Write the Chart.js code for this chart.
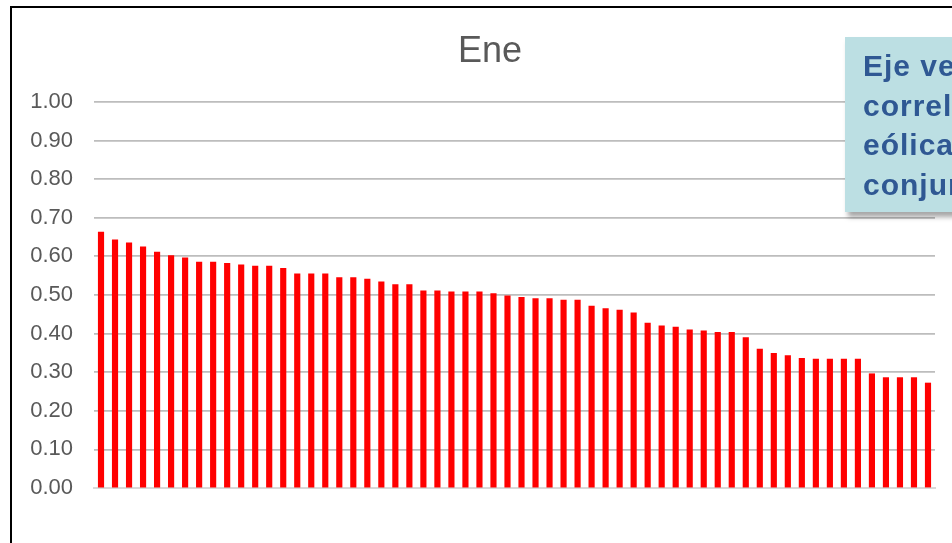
<!DOCTYPE html>
<html>
<head>
<meta charset="utf-8">
<script src="https://cdn.jsdelivr.net/npm/chart.js@4/dist/chart.umd.min.js"></script>
<style>
  html, body { margin: 0; padding: 0; background: #fff; overflow: hidden; }
  #wrap { position: relative; width: 952px; height: 543px; overflow: hidden; }
  #frame { position: absolute; left: 10px; top: 6px; width: 1200px; height: 800px;
           border-left: 2px solid #000; border-top: 2px solid #000; box-sizing: border-box; }
  canvas { position: absolute; left: 0; top: 0; }
  #note { position: absolute; left: 845px; top: 37px; width: 220px; height: 175px;
          background: #bcdfe3; box-shadow: 3px 5px 5px rgba(0,0,0,0.35);
          font-family: "Liberation Sans", Arial, sans-serif; font-weight: bold;
          font-size: 30px; line-height: 39.5px; letter-spacing: 1px; color: #2f5893;
          padding: 9px 0 0 18px; box-sizing: border-box; white-space: nowrap; }
</style>
</head>
<body>
<div id="wrap">
  <div id="frame"></div>
  <canvas id="c" width="952" height="543"></canvas>
  <div id="note">Eje vertical:<br>correlación<br>eólica<br>conjunta</div>
</div>
<script>
// Daily values for January, sorted from highest to lowest
const categories = Array.from({ length: 60 }, (_, i) => String(i + 1));
const values = [
  0.663, 0.643, 0.635, 0.625, 0.611, 0.602, 0.596, 0.585, 0.585, 0.582,
  0.578, 0.575, 0.575, 0.569, 0.555, 0.555, 0.555, 0.545, 0.545, 0.541,
  0.534, 0.527, 0.527, 0.511, 0.511, 0.508, 0.508, 0.508, 0.504, 0.498,
  0.494, 0.491, 0.491, 0.487, 0.487, 0.471, 0.465, 0.461, 0.454, 0.427,
  0.420, 0.417, 0.410, 0.407, 0.403, 0.403, 0.390, 0.360, 0.349, 0.343,
  0.336, 0.334, 0.334, 0.334, 0.334, 0.296, 0.286, 0.286, 0.286, 0.272
];
const yTicks = [0, 0.1, 0.2, 0.3, 0.4, 0.5, 0.6, 0.7, 0.8, 0.9, 1.0];
const chartTitle = 'Ene';

const FONT = '"Liberation Sans", Arial, sans-serif';

// Title drawn centred above the plot
const titlePlugin = {
  id: 'topTitle',
  afterDraw(chart) {
    const ctx = chart.ctx;
    ctx.save();
    ctx.font = '36px ' + FONT;
    ctx.fillStyle = '#595959';
    ctx.textAlign = 'center';
    ctx.textBaseline = 'alphabetic';
    ctx.fillText(chartTitle, 490, 62);
    ctx.restore();
  }
};

new Chart(document.getElementById('c'), {
  type: 'bar',
  data: {
    labels: categories,
    datasets: [{
      data: values,
      backgroundColor: '#ff0000',
      borderWidth: 0,
      barThickness: 5.5
    }]
  },
  options: {
    responsive: false,
    animation: false,
    layout: { padding: { top: 102, right: 17, bottom: 47, left: 0 } },
    plugins: { legend: { display: false }, tooltip: { enabled: false }, title: { display: false } },
    scales: {
      x: {
        ticks: { display: false },
        grid: { display: false },
        border: { display: true, color: '#d9d9d9', width: 2 }
      },
      y: {
        min: 0, max: 1,
        afterFit(scale) { scale.width = 94; },
        afterBuildTicks(scale) { scale.ticks = yTicks.map(v => ({ value: v })); },
        ticks: {
          padding: 21,
          color: '#595959',
          font: { family: FONT, size: 22 },
          callback: v => Number(v).toFixed(2)
        },
        grid: { color: '#bdbdbd', lineWidth: 1.8, drawTicks: false },
        border: { display: false }
      }
    }
  },
  plugins: [titlePlugin]
});
</script>
</body>
</html>
